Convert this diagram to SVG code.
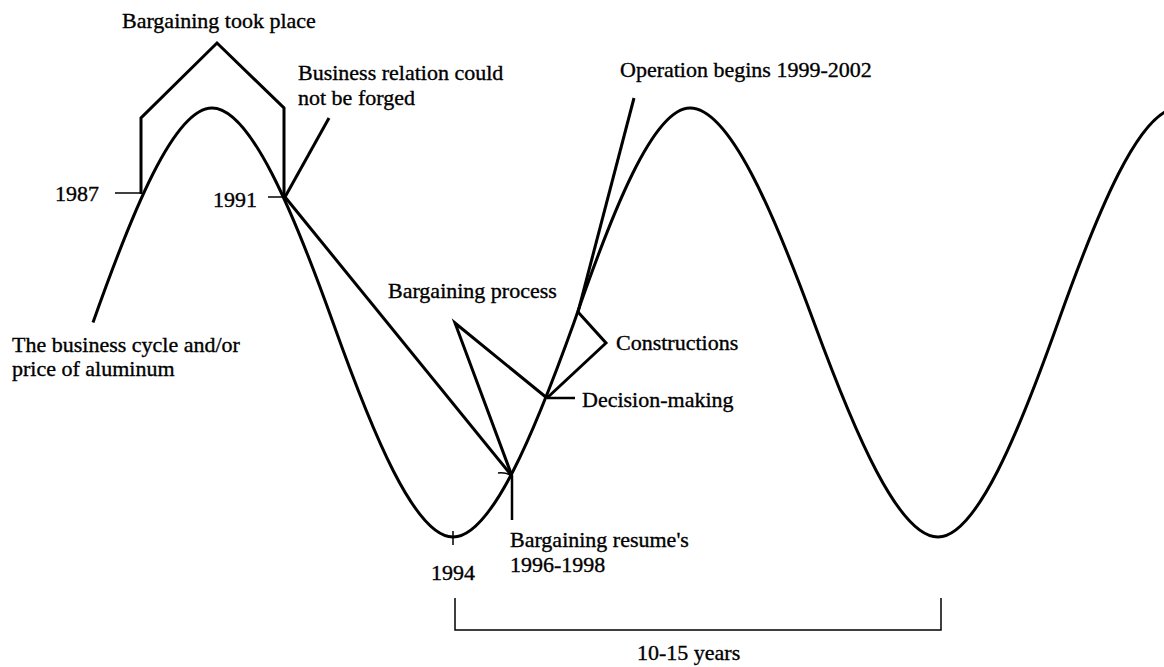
<svg xmlns="http://www.w3.org/2000/svg" width="1164" height="667" viewBox="0 0 1164 667">
  <style>
    .bg { fill: #ffffff; }
    .lbl { font-family: "Liberation Serif", "Times New Roman", serif; font-size: 22px; fill: #000000; stroke: #000000; stroke-width: 0.35; }
    .heavy { fill: none; stroke: #000000; stroke-width: 3; stroke-linejoin: miter; stroke-linecap: butt; }
    .thin { fill: none; stroke: #000000; stroke-width: 1.5; }
  </style>
  <rect class="bg" x="0" y="0" width="1164" height="667"/>

  <!-- business cycle / aluminium price wave -->
  <g id="cycle">
    <path class="heavy" d="M93,322.5 C131.9,212.5 174.1,108 212,108 C250.5,108 293.5,212.5 333,322.5 C372.2,432.5 414.8,537 453,537 C491.5,537 534.5,432.5 574,322.5 C611.9,212.5 653.1,108 690,108 C729.5,108 773.5,212.5 814,322.5 C854.5,432.5 898.5,537 938,537 C976.2,537 1018.8,432.5 1058,322.5 C1097.2,212.5 1139.8,108 1178,108"/>
    <text class="lbl" x="12" y="352">The business cycle and/or</text>
    <text class="lbl" x="12" y="376">price of aluminum</text>
  </g>

  <g id="year-1987">
    <line class="thin" x1="115" y1="193" x2="141" y2="193"/>
    <text class="lbl" x="55" y="201">1987</text>
  </g>

  <g id="year-1991">
    <line class="thin" x1="268" y1="197" x2="285" y2="197"/>
    <text class="lbl" x="213" y="207">1991</text>
  </g>

  <g id="bargaining-took-place">
    <polyline class="heavy" points="141,194 141,118 217,43 284,108 284,197"/>
    <text class="lbl" x="122" y="28">Bargaining took place</text>
  </g>

  <g id="business-relation">
    <text class="lbl" x="298" y="80">Business relation could</text>
    <text class="lbl" x="298" y="105">not be forged</text>
  </g>

  <g id="bargaining-process">
    <text class="lbl" x="388" y="298">Bargaining process</text>
  </g>

  <g id="decision-making">
    <line class="heavy" x1="547" y1="398" x2="575" y2="398" style="stroke-width:2.5"/>
    <text class="lbl" x="582" y="407">Decision-making</text>
  </g>

  <g id="constructions">
    <text class="lbl" x="616" y="350">Constructions</text>
  </g>

  <g id="operation">
    <text class="lbl" x="620" y="77">Operation begins 1999-2002</text>
  </g>

  <g id="bargaining-resumes">
    <line class="heavy" x1="512" y1="476" x2="512" y2="520" style="stroke-width:2.5"/>
    <path class="thin" d="M498,473 Q506,472 512,476"/>
    <text class="lbl" x="510" y="547">Bargaining resume's</text>
    <text class="lbl" x="510" y="572">1996-1998</text>
  </g>

  <g id="year-1994">
    <line class="thin" x1="453" y1="531" x2="453" y2="545"/>
    <text class="lbl" x="431" y="580">1994</text>
  </g>

  <g id="period">
    <polyline class="thin" points="455,598 455,630 941,630 941,598"/>
    <text class="lbl" x="637" y="660">10-15 years</text>
  </g>

  <!-- connecting strokes between the events on the wave -->
  <g id="connectors">
    <line class="heavy" x1="285" y1="197" x2="329" y2="118"/>
    <line class="heavy" x1="285" y1="197" x2="512" y2="476"/>
    <polyline class="heavy" points="512,476 455,323 547,398"/>
    <polyline class="heavy" points="578,312 606,343 547,398"/>
    <line class="heavy" x1="578" y1="312" x2="634" y2="98"/>
  </g>
</svg>
